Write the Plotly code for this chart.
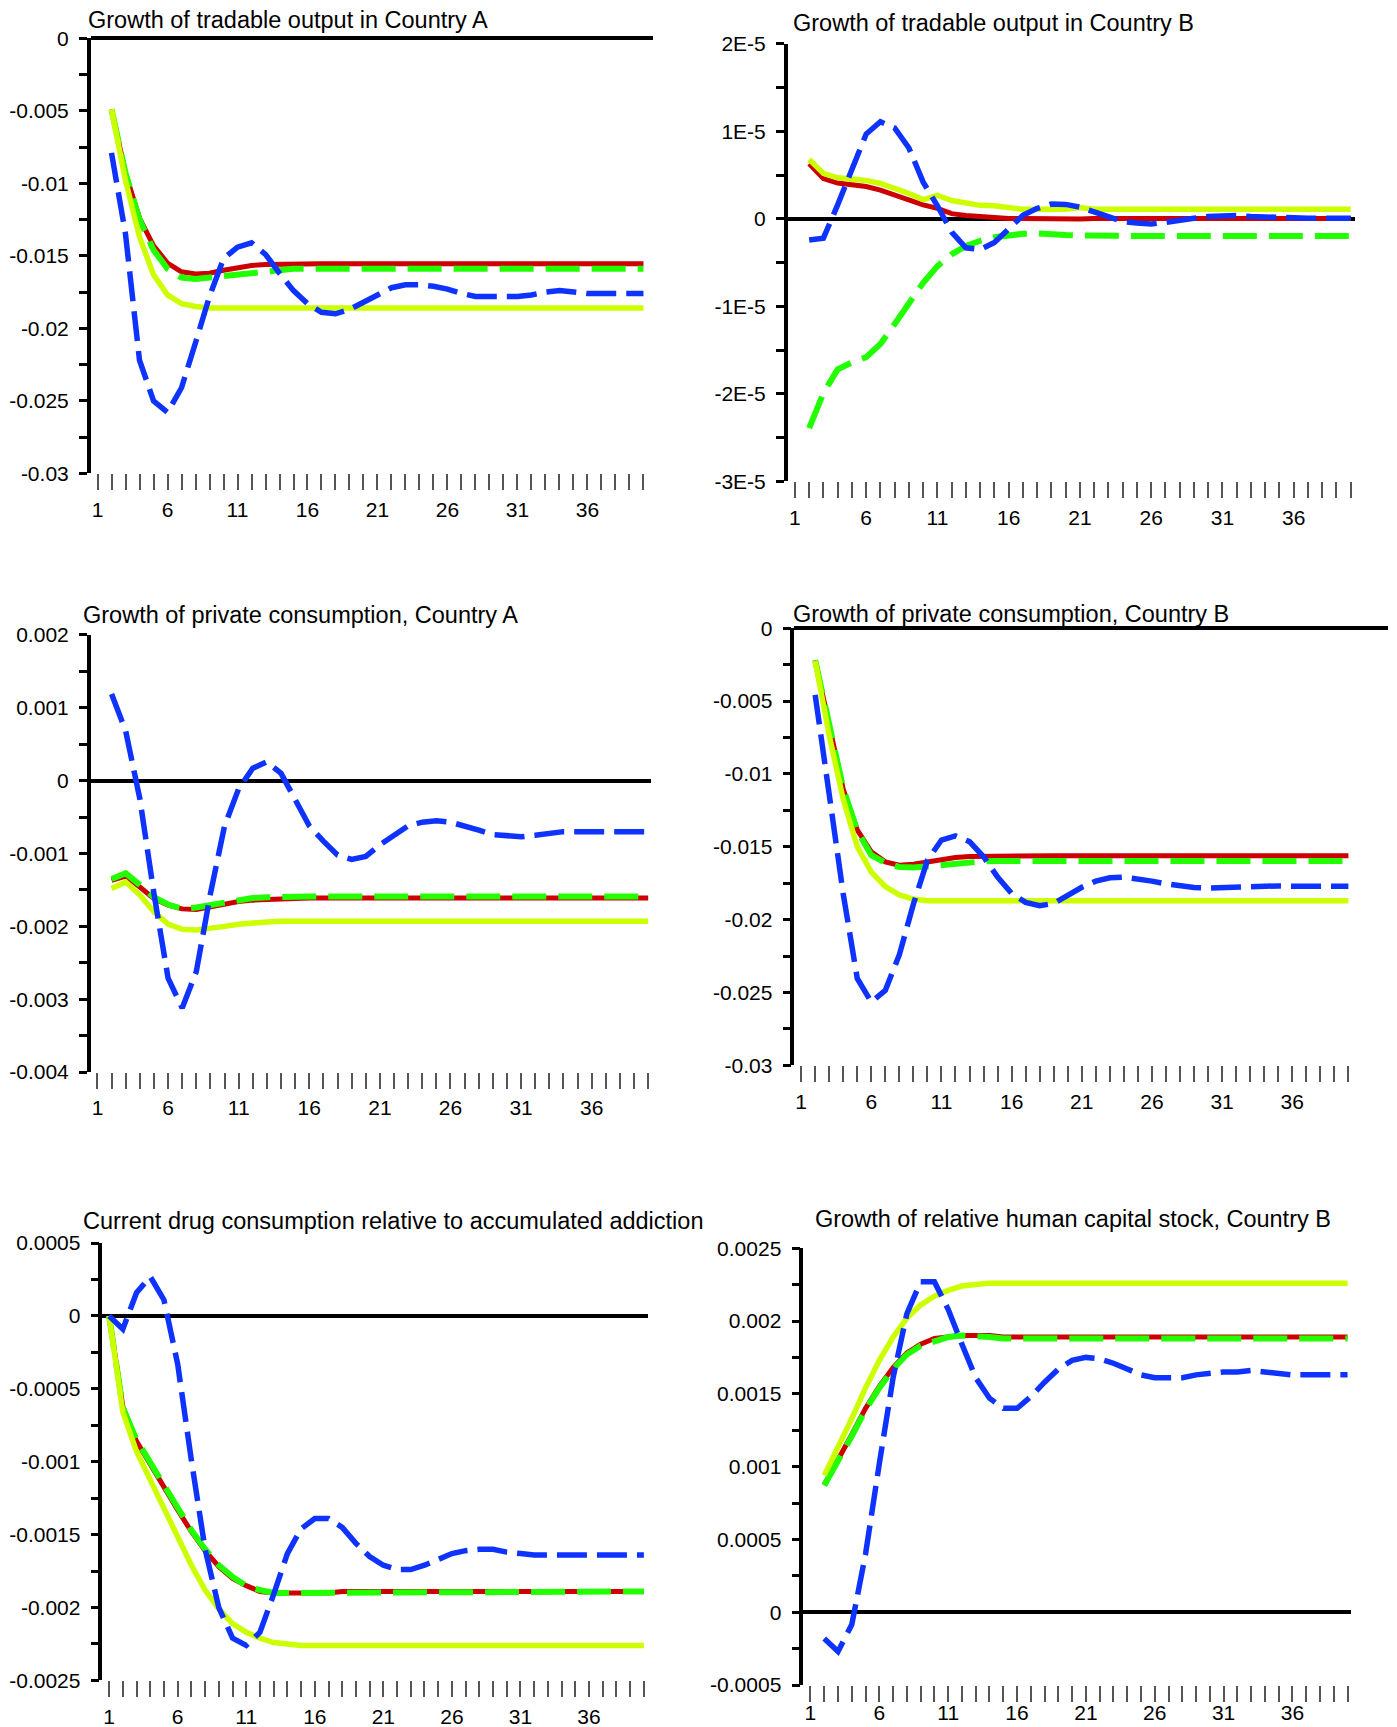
import plotly.graph_objects as go

# ---------------- data ----------------
titles = [
    "Growth of tradable output in Country A",
    "Growth of tradable output in Country B",
    "Growth of private consumption, Country A",
    "Growth of private consumption, Country B",
    "Current drug consumption relative to accumulated addiction",
    "Growth of relative human capital stock, Country B",
]

x_start = [2, 2, 2, 2, 1, 2]
x_tick_values = list(range(1, 41))
x_tick_labels = ["1", "", "", "", "", "6", "", "", "", "", "11", "", "", "", "", "16", "", "", "", "",
                 "21", "", "", "", "", "26", "", "", "", "", "31", "", "", "", "", "36", "", "", "", ""]

# panel 1: tradable output, Country A
tA_red = [-0.0049, -0.0093, -0.0124, -0.0143, -0.0155, -0.0161, -0.01625, -0.0162, -0.0160, -0.0158,
          -0.01567, -0.0156, -0.01557, -0.01555, -0.01555, -0.01555, -0.01555, -0.01555, -0.01555, -0.01555,
          -0.01555, -0.01555, -0.01555, -0.01555, -0.01555, -0.01555, -0.01555, -0.01555, -0.01555, -0.01555,
          -0.01555, -0.01555, -0.01555, -0.01555, -0.01555, -0.01555, -0.01555, -0.01555, -0.01555]
tA_green = [-0.0049, -0.0093, -0.0125, -0.0146, -0.0159, -0.0165, -0.0166, -0.0165, -0.0164, -0.0162,
            -0.0161, -0.01603, -0.0160, -0.0159, -0.0159, -0.0159, -0.0159, -0.0159, -0.0159, -0.0159,
            -0.0159, -0.0159, -0.0159, -0.0159, -0.0159, -0.0159, -0.0159, -0.0159, -0.0159, -0.0159,
            -0.0159, -0.0159, -0.0159, -0.0159, -0.0159, -0.0159, -0.0159, -0.0159, -0.0159]
tA_yellow = [-0.0049, -0.0098, -0.0137, -0.0163, -0.0177, -0.0183, -0.0185, -0.0186, -0.0186, -0.0186,
             -0.0186, -0.0186, -0.0186, -0.0186, -0.0186, -0.0186, -0.0186, -0.0186, -0.0186, -0.0186,
             -0.0186, -0.0186, -0.0186, -0.0186, -0.0186, -0.0186, -0.0186, -0.0186, -0.0186, -0.0186,
             -0.0186, -0.0186, -0.0186, -0.0186, -0.0186, -0.0186, -0.0186, -0.0186, -0.0186]
tA_blue = [-0.0079, -0.0135, -0.0222, -0.0250, -0.0258, -0.0241, -0.0210, -0.0178, -0.0152, -0.0144,
           -0.0141, -0.0149, -0.0162, -0.0174, -0.0183, -0.0189, -0.0190, -0.0187, -0.0182, -0.0177,
           -0.0172, -0.0170, -0.0170, -0.0171, -0.0173, -0.0176, -0.0178, -0.0178, -0.0178, -0.0178,
           -0.0177, -0.0175, -0.0174, -0.0175, -0.0176, -0.0176, -0.0176, -0.0176, -0.0176]

# panel 2: tradable output, Country B
tB_red = [6.3e-6, 4.6e-6, 4.1e-6, 3.9e-6, 3.7e-6, 3.3e-6, 2.7e-6, 2.1e-6, 1.6e-6, 1.2e-6,
          0.6e-6, 0.4e-6, 0.27e-6, 0.1e-6, 0.05e-6, 0.05e-6, 0.03e-6, 0.0, -0.1e-6, 0.0,
          0.04e-6, 0.04e-6, 0.04e-6, 0.04e-6, 0.04e-6, 0.04e-6, 0.04e-6, 0.04e-6, 0.04e-6, 0.04e-6,
          0.04e-6, 0.04e-6, 0.04e-6, 0.04e-6, 0.04e-6, 0.04e-6, 0.04e-6, 0.04e-6, 0.04e-6]
tB_green = [-23.9e-6, -19.9e-6, -17.2e-6, -16.4e-6, -15.8e-6, -14.3e-6, -12.0e-6, -9.7e-6, -7.3e-6, -5.4e-6,
            -4.05e-6, -3.1e-6, -2.5e-6, -2.1e-6, -1.85e-6, -1.7e-6, -1.66e-6, -1.8e-6, -1.85e-6, -1.9e-6,
            -1.95e-6, -1.95e-6, -1.95e-6, -1.95e-6, -1.95e-6, -1.95e-6, -1.95e-6, -1.95e-6, -1.95e-6, -1.95e-6,
            -1.95e-6, -1.95e-6, -1.95e-6, -1.95e-6, -1.95e-6, -1.95e-6, -1.95e-6, -1.95e-6, -1.95e-6]
tB_yellow = [6.8e-6, 5.2e-6, 4.7e-6, 4.6e-6, 4.4e-6, 4.05e-6, 3.5e-6, 2.9e-6, 2.2e-6, 2.7e-6,
             2.1e-6, 1.85e-6, 1.55e-6, 1.5e-6, 1.3e-6, 1.1e-6, 1.1e-6, 1.1e-6, 1.1e-6, 1.3e-6,
             1.1e-6, 1.1e-6, 1.1e-6, 1.1e-6, 1.1e-6, 1.1e-6, 1.1e-6, 1.1e-6, 1.1e-6, 1.1e-6,
             1.1e-6, 1.1e-6, 1.1e-6, 1.1e-6, 1.1e-6, 1.1e-6, 1.1e-6, 1.1e-6, 1.1e-6]
tB_blue = [-2.4e-6, -2.2e-6, 1.6e-6, 5.5e-6, 9.7e-6, 11.1e-6, 10.4e-6, 8.1e-6, 4.2e-6, 1.5e-6,
           -1.5e-6, -3.3e-6, -3.5e-6, -2.7e-6, -1.2e-6, 0.4e-6, 1.2e-6, 1.7e-6, 1.66e-6, 1.35e-6,
           0.8e-6, 0.2e-6, -0.3e-6, -0.46e-6, -0.58e-6, -0.4e-6, -0.1e-6, 0.08e-6, 0.27e-6, 0.39e-6,
           0.39e-6, 0.27e-6, 0.2e-6, 0.15e-6, 0.1e-6, 0.08e-6, 0.08e-6, 0.08e-6, 0.08e-6]

# panel 3: private consumption, Country A
cA_red = [-0.00137, -0.00131, -0.00146, -0.00162, -0.00171, -0.00176, -0.00177, -0.00173, -0.00169, -0.00166,
          -0.00164, -0.00163, -0.00162, -0.00161, -0.00161, -0.00161, -0.00161, -0.00161, -0.00161, -0.00161,
          -0.00161, -0.00161, -0.00161, -0.00161, -0.00161, -0.00161, -0.00161, -0.00161, -0.00161, -0.00161,
          -0.00161, -0.00161, -0.00161, -0.00161, -0.00161, -0.00161, -0.00161, -0.00161, -0.00161]
cA_green = [-0.00135, -0.00127, -0.00143, -0.00160, -0.00170, -0.00176, -0.00174, -0.00171, -0.00167, -0.00163,
            -0.00161, -0.00160, -0.00159, -0.00159, -0.00159, -0.00159, -0.00159, -0.00159, -0.00159, -0.00159,
            -0.00159, -0.00159, -0.00159, -0.00159, -0.00159, -0.00159, -0.00159, -0.00159, -0.00159, -0.00159,
            -0.00159, -0.00159, -0.00159, -0.00159, -0.00159, -0.00159, -0.00159, -0.00159, -0.00159]
cA_yellow = [-0.00148, -0.00139, -0.00157, -0.00180, -0.00197, -0.00204, -0.00205, -0.00203, -0.00200, -0.00197,
             -0.00195, -0.00194, -0.00193, -0.00193, -0.00193, -0.00193, -0.00193, -0.00193, -0.00193, -0.00193,
             -0.00193, -0.00193, -0.00193, -0.00193, -0.00193, -0.00193, -0.00193, -0.00193, -0.00193, -0.00193,
             -0.00193, -0.00193, -0.00193, -0.00193, -0.00193, -0.00193, -0.00193, -0.00193, -0.00193]
cA_blue = [0.00119, 0.00068, -0.00025, -0.00155, -0.00271, -0.00312, -0.00262, -0.00155, -0.00062, -0.00011,
           0.00017, 0.00026, 0.0001, -0.00025, -0.00062, -0.00083, -0.00102, -0.00108, -0.00104, -0.00088,
           -0.00074, -0.00062, -0.00057, -0.00055, -0.00057, -0.00062, -0.00068, -0.00074, -0.00076, -0.00077,
           -0.00075, -0.00073, -0.0007, -0.0007, -0.0007, -0.0007, -0.0007, -0.0007, -0.0007]

# panel 4: private consumption, Country B
cB_red = [-0.0022, -0.00665, -0.01106, -0.01384, -0.01535, -0.01604, -0.01627, -0.0162, -0.01604, -0.01585,
          -0.01574, -0.01567, -0.01565, -0.01562, -0.01562, -0.01562, -0.01562, -0.01562, -0.01562, -0.01562,
          -0.01562, -0.01562, -0.01562, -0.01562, -0.01562, -0.01562, -0.01562, -0.01562, -0.01562, -0.01562,
          -0.01562, -0.01562, -0.01562, -0.01562, -0.01562, -0.01562, -0.01562, -0.01562, -0.01562]
cB_green = [-0.0022, -0.0066, -0.0110, -0.0139, -0.01558, -0.0161, -0.01639, -0.01643, -0.01634, -0.0162,
            -0.01611, -0.01606, -0.0160, -0.01597, -0.01597, -0.01597, -0.01597, -0.01597, -0.01597, -0.01597,
            -0.01597, -0.01597, -0.01597, -0.01597, -0.01597, -0.01597, -0.01597, -0.01597, -0.01597, -0.01597,
            -0.01597, -0.01597, -0.01597, -0.01597, -0.01597, -0.01597, -0.01597, -0.01597, -0.01597]
cB_yellow = [-0.00225, -0.00735, -0.01175, -0.0150, -0.01674, -0.01773, -0.01831, -0.01859, -0.01871, -0.01873,
             -0.0187, -0.0187, -0.0187, -0.0187, -0.0187, -0.0187, -0.0187, -0.0187, -0.0187, -0.0187,
             -0.0187, -0.0187, -0.0187, -0.0187, -0.0187, -0.0187, -0.0187, -0.0187, -0.0187, -0.0187,
             -0.0187, -0.0187, -0.0187, -0.0187, -0.0187, -0.0187, -0.0187, -0.0187, -0.0187]
cB_blue = [-0.00457, -0.01129, -0.01824, -0.02404, -0.02566, -0.02485, -0.02241, -0.01894, -0.01593, -0.01454,
           -0.01426, -0.01465, -0.01569, -0.01708, -0.0182, -0.01882, -0.01905, -0.01889, -0.01836, -0.01778,
           -0.01736, -0.01713, -0.01708, -0.0172, -0.01736, -0.01755, -0.01771, -0.0178, -0.01783, -0.0178,
           -0.01773, -0.01769, -0.01766, -0.01769, -0.01771, -0.01771, -0.01771, -0.01771, -0.01771]

# panel 5: drug consumption relative to addiction (starts at period 1)
d_red = [0.0, -0.00062, -0.00086, -0.00102, -0.00118, -0.00133, -0.00148, -0.00161, -0.00172, -0.00180,
         -0.00185, -0.00189, -0.00190, -0.00190, -0.00190, -0.00190, -0.00190, -0.00189, -0.00189, -0.00189,
         -0.00189, -0.00189, -0.00189, -0.00189, -0.00189, -0.00189, -0.00189, -0.00189, -0.00189, -0.00189,
         -0.00189, -0.00189, -0.00189, -0.00189, -0.00189, -0.00189, -0.00189, -0.00189, -0.00189, -0.00189]
d_green = [0.0, -0.00063, -0.00085, -0.00101, -0.00117, -0.00132, -0.00147, -0.00160, -0.00171, -0.00179,
           -0.00185, -0.00188, -0.00190, -0.00190, -0.00190, -0.00190, -0.00190, -0.00189, -0.00189, -0.00189,
           -0.00189, -0.00189, -0.00189, -0.00189, -0.00189, -0.00189, -0.00189, -0.00189, -0.00189, -0.00189,
           -0.00189, -0.00189, -0.00189, -0.00189, -0.00189, -0.00189, -0.00189, -0.00189, -0.00189, -0.00189]
d_yellow = [0.0, -0.00066, -0.00093, -0.00113, -0.00132, -0.00152, -0.00171, -0.00188, -0.00201, -0.00211,
            -0.00217, -0.00221, -0.00224, -0.00225, -0.00226, -0.00226, -0.00226, -0.00226, -0.00226, -0.00226,
            -0.00226, -0.00226, -0.00226, -0.00226, -0.00226, -0.00226, -0.00226, -0.00226, -0.00226, -0.00226,
            -0.00226, -0.00226, -0.00226, -0.00226, -0.00226, -0.00226, -0.00226, -0.00226, -0.00226, -0.00226]
d_blue = [0.0, -0.00009, 0.00016, 0.00027, 0.00011, -0.00033, -0.00099, -0.00160, -0.00200, -0.00221,
          -0.00226, -0.00217, -0.00191, -0.00163, -0.00146, -0.00139, -0.00139, -0.00145, -0.00156, -0.00165,
          -0.00171, -0.00174, -0.00174, -0.00171, -0.00167, -0.00163, -0.00161, -0.00160, -0.00160, -0.00162,
          -0.00163, -0.00164, -0.00164, -0.00164, -0.00164, -0.00164, -0.00164, -0.00164, -0.00164, -0.00164]

# panel 6: relative human capital stock, Country B
h_red = [0.000874, 0.00104, 0.00122, 0.00140, 0.00155, 0.00168, 0.00178, 0.00184, 0.00188, 0.00189,
         0.00190, 0.00190, 0.00190, 0.00189, 0.00189, 0.00189, 0.00189, 0.00189, 0.00189, 0.00189,
         0.00189, 0.00189, 0.00189, 0.00189, 0.00189, 0.00189, 0.00189, 0.00189, 0.00189, 0.00189,
         0.00189, 0.00189, 0.00189, 0.00189, 0.00189, 0.00189, 0.00189, 0.00189, 0.00189]
h_green = [0.00087, 0.00103, 0.00121, 0.00139, 0.00154, 0.00167, 0.00177, 0.00183, 0.00186, 0.00189,
           0.00190, 0.00190, 0.00189, 0.00188, 0.00188, 0.00188, 0.00188, 0.00188, 0.00188, 0.00188,
           0.00188, 0.00188, 0.00188, 0.00188, 0.00188, 0.00188, 0.00188, 0.00188, 0.00188, 0.00188,
           0.00188, 0.00188, 0.00188, 0.00188, 0.00188, 0.00188, 0.00188, 0.00188, 0.00188]
h_yellow = [0.00094, 0.00113, 0.00133, 0.00154, 0.00173, 0.00189, 0.00202, 0.00211, 0.00217, 0.00221,
            0.00224, 0.00225, 0.00226, 0.00226, 0.00226, 0.00226, 0.00226, 0.00226, 0.00226, 0.00226,
            0.00226, 0.00226, 0.00226, 0.00226, 0.00226, 0.00226, 0.00226, 0.00226, 0.00226, 0.00226,
            0.00226, 0.00226, 0.00226, 0.00226, 0.00226, 0.00226, 0.00226, 0.00226, 0.00226]
h_blue = [-0.00018, -0.00027, -0.000085, 0.00040, 0.00102, 0.00161, 0.00205, 0.00227, 0.00227, 0.00208,
          0.00184, 0.00161, 0.00147, 0.00140, 0.00140, 0.00148, 0.00158, 0.00167, 0.00173, 0.00175,
          0.00174, 0.00171, 0.00167, 0.00163, 0.00161, 0.00161, 0.00161, 0.00163, 0.00164, 0.00165,
          0.00165, 0.00166, 0.00165, 0.00164, 0.00163, 0.00163, 0.00163, 0.00163, 0.00163]

series = [
    (tA_red, tA_green, tA_yellow, tA_blue),
    (tB_red, tB_green, tB_yellow, tB_blue),
    (cA_red, cA_green, cA_yellow, cA_blue),
    (cB_red, cB_green, cB_yellow, cB_blue),
    (d_red, d_green, d_yellow, d_blue),
    (h_red, h_green, h_yellow, h_blue),
]

y_tick_values = [
    [0, -0.005, -0.01, -0.015, -0.02, -0.025, -0.03],
    [2e-5, 1e-5, 0, -1e-5, -2e-5, -3e-5],
    [0.002, 0.001, 0, -0.001, -0.002, -0.003, -0.004],
    [0, -0.005, -0.01, -0.015, -0.02, -0.025, -0.03],
    [0.0005, 0, -0.0005, -0.001, -0.0015, -0.002, -0.0025],
    [0.0025, 0.002, 0.0015, 0.001, 0.0005, 0, -0.0005],
]
y_tick_labels = [
    ["0", "-0.005", "-0.01", "-0.015", "-0.02", "-0.025", "-0.03"],
    ["2E-5", "1E-5", "0", "-1E-5", "-2E-5", "-3E-5"],
    ["0.002", "0.001", "0", "-0.001", "-0.002", "-0.003", "-0.004"],
    ["0", "-0.005", "-0.01", "-0.015", "-0.02", "-0.025", "-0.03"],
    ["0.0005", "0", "-0.0005", "-0.001", "-0.0015", "-0.002", "-0.0025"],
    ["0.0025", "0.002", "0.0015", "0.001", "0.0005", "0", "-0.0005"],
]

# ---------------- layout geometry (pixels) ----------------
W, H = 1397, 1727
# axis-line x, right edge x, top y, bottom y
boxes = [
    (90.7, 653.0, 38.3, 473.3),
    (787.7, 1355.0, 43.9, 481.4),
    (90.7, 651.0, 634.9, 1072.1),
    (794.4, 1387.7, 628.2, 1065.3),
    (102.4, 648.0, 1243.1, 1680.4),
    (803.3, 1351.0, 1248.2, 1685.0),
]
x_ranges = [(0.514, 40.68), (0.495, 40.3), (0.52, 40.2), (0.52, 42.8), (0.51, 40.3), (0.48, 40.25)]
x_label_standoff = [1, 1, 1, 1, 1, -7]
title_pos = [(86, 20), (790.5, 23.5), (80.7, 615.3), (791.4, 613.6), (80.7, 1220.8), (812.8, 1219.0)]

colors = ["#cc0000", "#22ff00", "#ccff00", "#0f33ff"]
widths = [5, 6, 5.5, 5.5]
dashes = ["solid", "34px,12px", "solid", "30px,10px"]

FONT = "Liberation Sans, Arial, Helvetica, sans-serif"

fig = go.Figure()
layout = dict(
    width=W, height=H, margin=dict(l=0, r=0, t=0, b=0, autoexpand=False),
    paper_bgcolor="white", plot_bgcolor="white",
    font=dict(family=FONT, size=21, color="black"),
    showlegend=False, annotations=[],
)

for i in range(6):
    n = i + 1
    xname = "x" if n == 1 else f"x{n}"
    yname = "y" if n == 1 else f"y{n}"
    x0, x1, y0, y1 = boxes[i]
    vals = series[i]
    xs = list(range(x_start[i], x_start[i] + len(vals[0])))
    for k in range(4):
        fig.add_trace(go.Scatter(
            x=xs, y=vals[k], mode="lines", xaxis=xname, yaxis=yname,
            line=dict(color=colors[k], width=widths[k], dash=dashes[k]),
            hoverinfo="skip", showlegend=False,
        ))
    tv = y_tick_values[i]
    yr = [min(tv), max(tv)]
    mids = [(tv[j] + tv[j + 1]) / 2 for j in range(len(tv) - 1)]
    layout["xaxis" if n == 1 else f"xaxis{n}"] = dict(
        domain=[x0 / W, x1 / W], range=list(x_ranges[i]), anchor=yname,
        tickmode="array", tickvals=x_tick_values, ticktext=x_tick_labels,
        ticks="outside", ticklen=16, tickwidth=1.5, tickcolor="#555555",
        showline=False, showgrid=False, zeroline=False, automargin=False,
        tickfont=dict(size=21, family=FONT, color="black"),
        ticklabelstandoff=x_label_standoff[i],
    )
    layout["yaxis" if n == 1 else f"yaxis{n}"] = dict(
        domain=[1 - y1 / H, 1 - y0 / H], range=yr, anchor=xname,
        tickmode="array", tickvals=tv, ticktext=y_tick_labels[i],
        ticks="outside", ticklen=8, tickwidth=3, tickcolor="black",
        minor=dict(tickmode="array", tickvals=mids, ticks="outside", ticklen=8,
                   tickwidth=3, tickcolor="black", showgrid=False),
        showline=True, linewidth=3.5, linecolor="black",
        zeroline=True, zerolinewidth=3.5, zerolinecolor="black",
        showgrid=False, automargin=False,
        tickfont=dict(size=21, family=FONT, color="black"),
        ticklabelstandoff=6,
    )
    layout[f"yaxis{n + 6}"] = dict(
        overlaying=yname, anchor=xname, range=yr, side="left",
        tickmode="array", tickvals=tv, ticks="inside", ticklen=12, tickwidth=3,
        tickcolor="black", showticklabels=False, showline=False, showgrid=False,
        zeroline=False, automargin=False,
    )
    tx, ty = title_pos[i]
    layout["annotations"].append(dict(
        text=titles[i], x=tx / W, y=1 - ty / H, xref="paper", yref="paper",
        xanchor="left", yanchor="middle", showarrow=False,
        font=dict(size=23.5, family=FONT, color="black"),
    ))

fig.update_layout(**layout)
fig.write_html(
    "out.html",
    config={"displayModeBar": False},
    post_script="document.body.style.margin='0';document.body.style.overflow='hidden';",
)
